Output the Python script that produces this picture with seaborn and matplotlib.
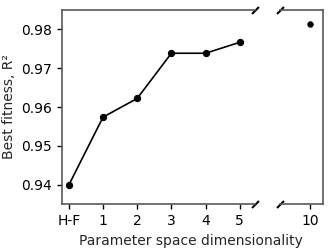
import pandas as pd
import seaborn as sns
from matplotlib import pyplot as plt

# values
dims_left = [0, 1, 2, 3, 4, 5]
fit_left = [0.9400, 0.9574, 0.9622, 0.9738, 0.9738, 0.9766]
dims_right = [10]
fit_right = [0.9812]
left_labels = ['H-F', '1', '2', '3', '4', '5']
right_labels = ['10']
y_ticks = [0.94, 0.95, 0.96, 0.97, 0.98]

sns.set_style('ticks')
plt.rcParams['font.family'] = ['DejaVu Sans']
plt.rcParams['axes.edgecolor'] = '0.35'

df_l = pd.DataFrame({'dim': dims_left, 'fit': fit_left})
df_r = pd.DataFrame({'dim': dims_right, 'fit': fit_right})

fig = plt.figure(figsize=(3.3, 2.5), dpi=100)
ax1 = fig.add_axes([0.188, 0.184, 0.585, 0.776])
ax2 = fig.add_axes([0.848, 0.184, 0.130, 0.776], sharey=ax1)

sns.lineplot(data=df_l, x='dim', y='fit', ax=ax1, color='black', lw=1.2,
             marker='o', markersize=4.5, markeredgecolor='black')
sns.scatterplot(data=df_r, x='dim', y='fit', ax=ax2, color='black', s=18,
                edgecolor='black')

ax1.set_xlim(-0.2, 5.45)
ax2.set_xlim(9.1, 10.36)
ax1.set_ylim(0.9351, 0.9849)

ax1.set_xticks(dims_left)
ax1.set_xticklabels(left_labels)
ax2.set_xticks(dims_right)
ax2.set_xticklabels(right_labels)
ax1.set_yticks(y_ticks)
ax1.set_yticklabels([f'{t:.2f}' for t in y_ticks])

ax1.spines['right'].set_visible(False)
ax2.spines['left'].set_visible(False)
ax2.tick_params(axis='y', left=False, labelleft=False)
for a in (ax1, ax2):
    a.spines[:].set_linewidth(1.2)
    a.tick_params(colors='black', width=1.0, length=3.5, labelsize=10)

ax1.set_xlabel('')
ax2.set_xlabel('')
ax1.set_ylabel('Best fitness, R²', fontsize=10)
ax2.set_ylabel('')
fig.text(0.58, 0.01, 'Parameter space dimensionality', ha='center', va='bottom', fontsize=10)

# break marks
d = 1.0
kw = dict(marker=[(-1, -d), (1, d)], markersize=5, linestyle='none',
          color='k', mec='k', mew=1.5, clip_on=False)
ax1.plot([1, 1], [0, 1], transform=ax1.transAxes, **kw)
ax2.plot([0, 0], [0, 1], transform=ax2.transAxes, **kw)

plt.savefig('out.png', dpi=100)
